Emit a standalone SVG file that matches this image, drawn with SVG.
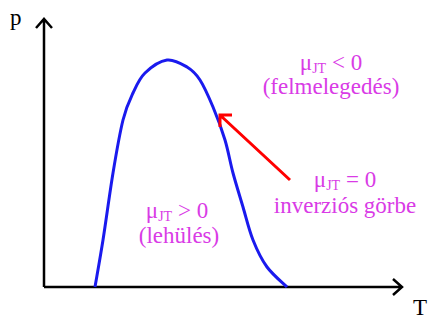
<svg xmlns="http://www.w3.org/2000/svg" width="428" height="320" viewBox="0 0 428 320">
<style>
.lbl{font-family:"Liberation Serif","Times New Roman",serif;font-size:23px;fill:#d93be6;text-anchor:middle}
.ax{font-family:"Liberation Serif","Times New Roman",serif;font-size:23px;fill:#000}
.sub{font-size:14px}
.axis{fill:none;stroke:#000;stroke-width:2.5}
</style>
<rect width="428" height="320" fill="#fff"/>
<g id="axes">
<path class="axis" d="M44,287 V19 M36,28 L44,19 L52,28"/>
<path class="axis" d="M44,287 H402 M393,279 L402,287 L393,295"/>
<text class="ax" x="10" y="25">p</text>
<text class="ax" x="413" y="315">T</text>
</g>
<g id="curve">
<path fill="none" stroke="#1a1aee" stroke-width="3" stroke-linejoin="round" d="M95,287 C96.3,279.2 100,259 103,240 C106,221 109.7,193 113,173 C116.3,153 119.7,133.3 123,120 C126.3,106.7 129.3,100.8 133,93 C136.7,85.2 139.3,78.5 145,73 C150.7,67.5 160,61 167,60 C174,59 181.5,63.7 187,67 C192.5,70.3 195.7,73.3 200,80 C204.3,86.7 208.8,97 213,107 C217.2,117 221.7,129 225,140 C228.3,151 230,161.8 233,173 C236,184.2 239.7,195.8 243,207 C246.3,218.2 249,230 253,240 C257,250 261.3,259.2 267,267 C272.7,274.8 283.7,283.7 287,287"/>
</g>
<g id="connectors">
<path fill="none" stroke="#ff0000" stroke-width="3" d="M290,180 L221,116 M232,115 L220,115 L220,127"/>
</g>
<g id="region-heating">
<text class="lbl" x="331" y="70">μ<tspan class="sub" dy="3">JT</tspan><tspan dy="-3"> &lt; 0</tspan></text>
<text class="lbl" x="331" y="94">(felmelegedés)</text>
</g>
<g id="inversion-label">
<text class="lbl" x="345" y="187">μ<tspan class="sub" dy="3">JT</tspan><tspan dy="-3"> = 0</tspan></text>
<text class="lbl" x="345" y="213">inverziós görbe</text>
</g>
<g id="region-cooling">
<text class="lbl" x="177" y="218">μ<tspan class="sub" dy="3">JT</tspan><tspan dy="-3"> &gt; 0</tspan></text>
<text class="lbl" x="179" y="243">(lehülés)</text>
</g>
</svg>
